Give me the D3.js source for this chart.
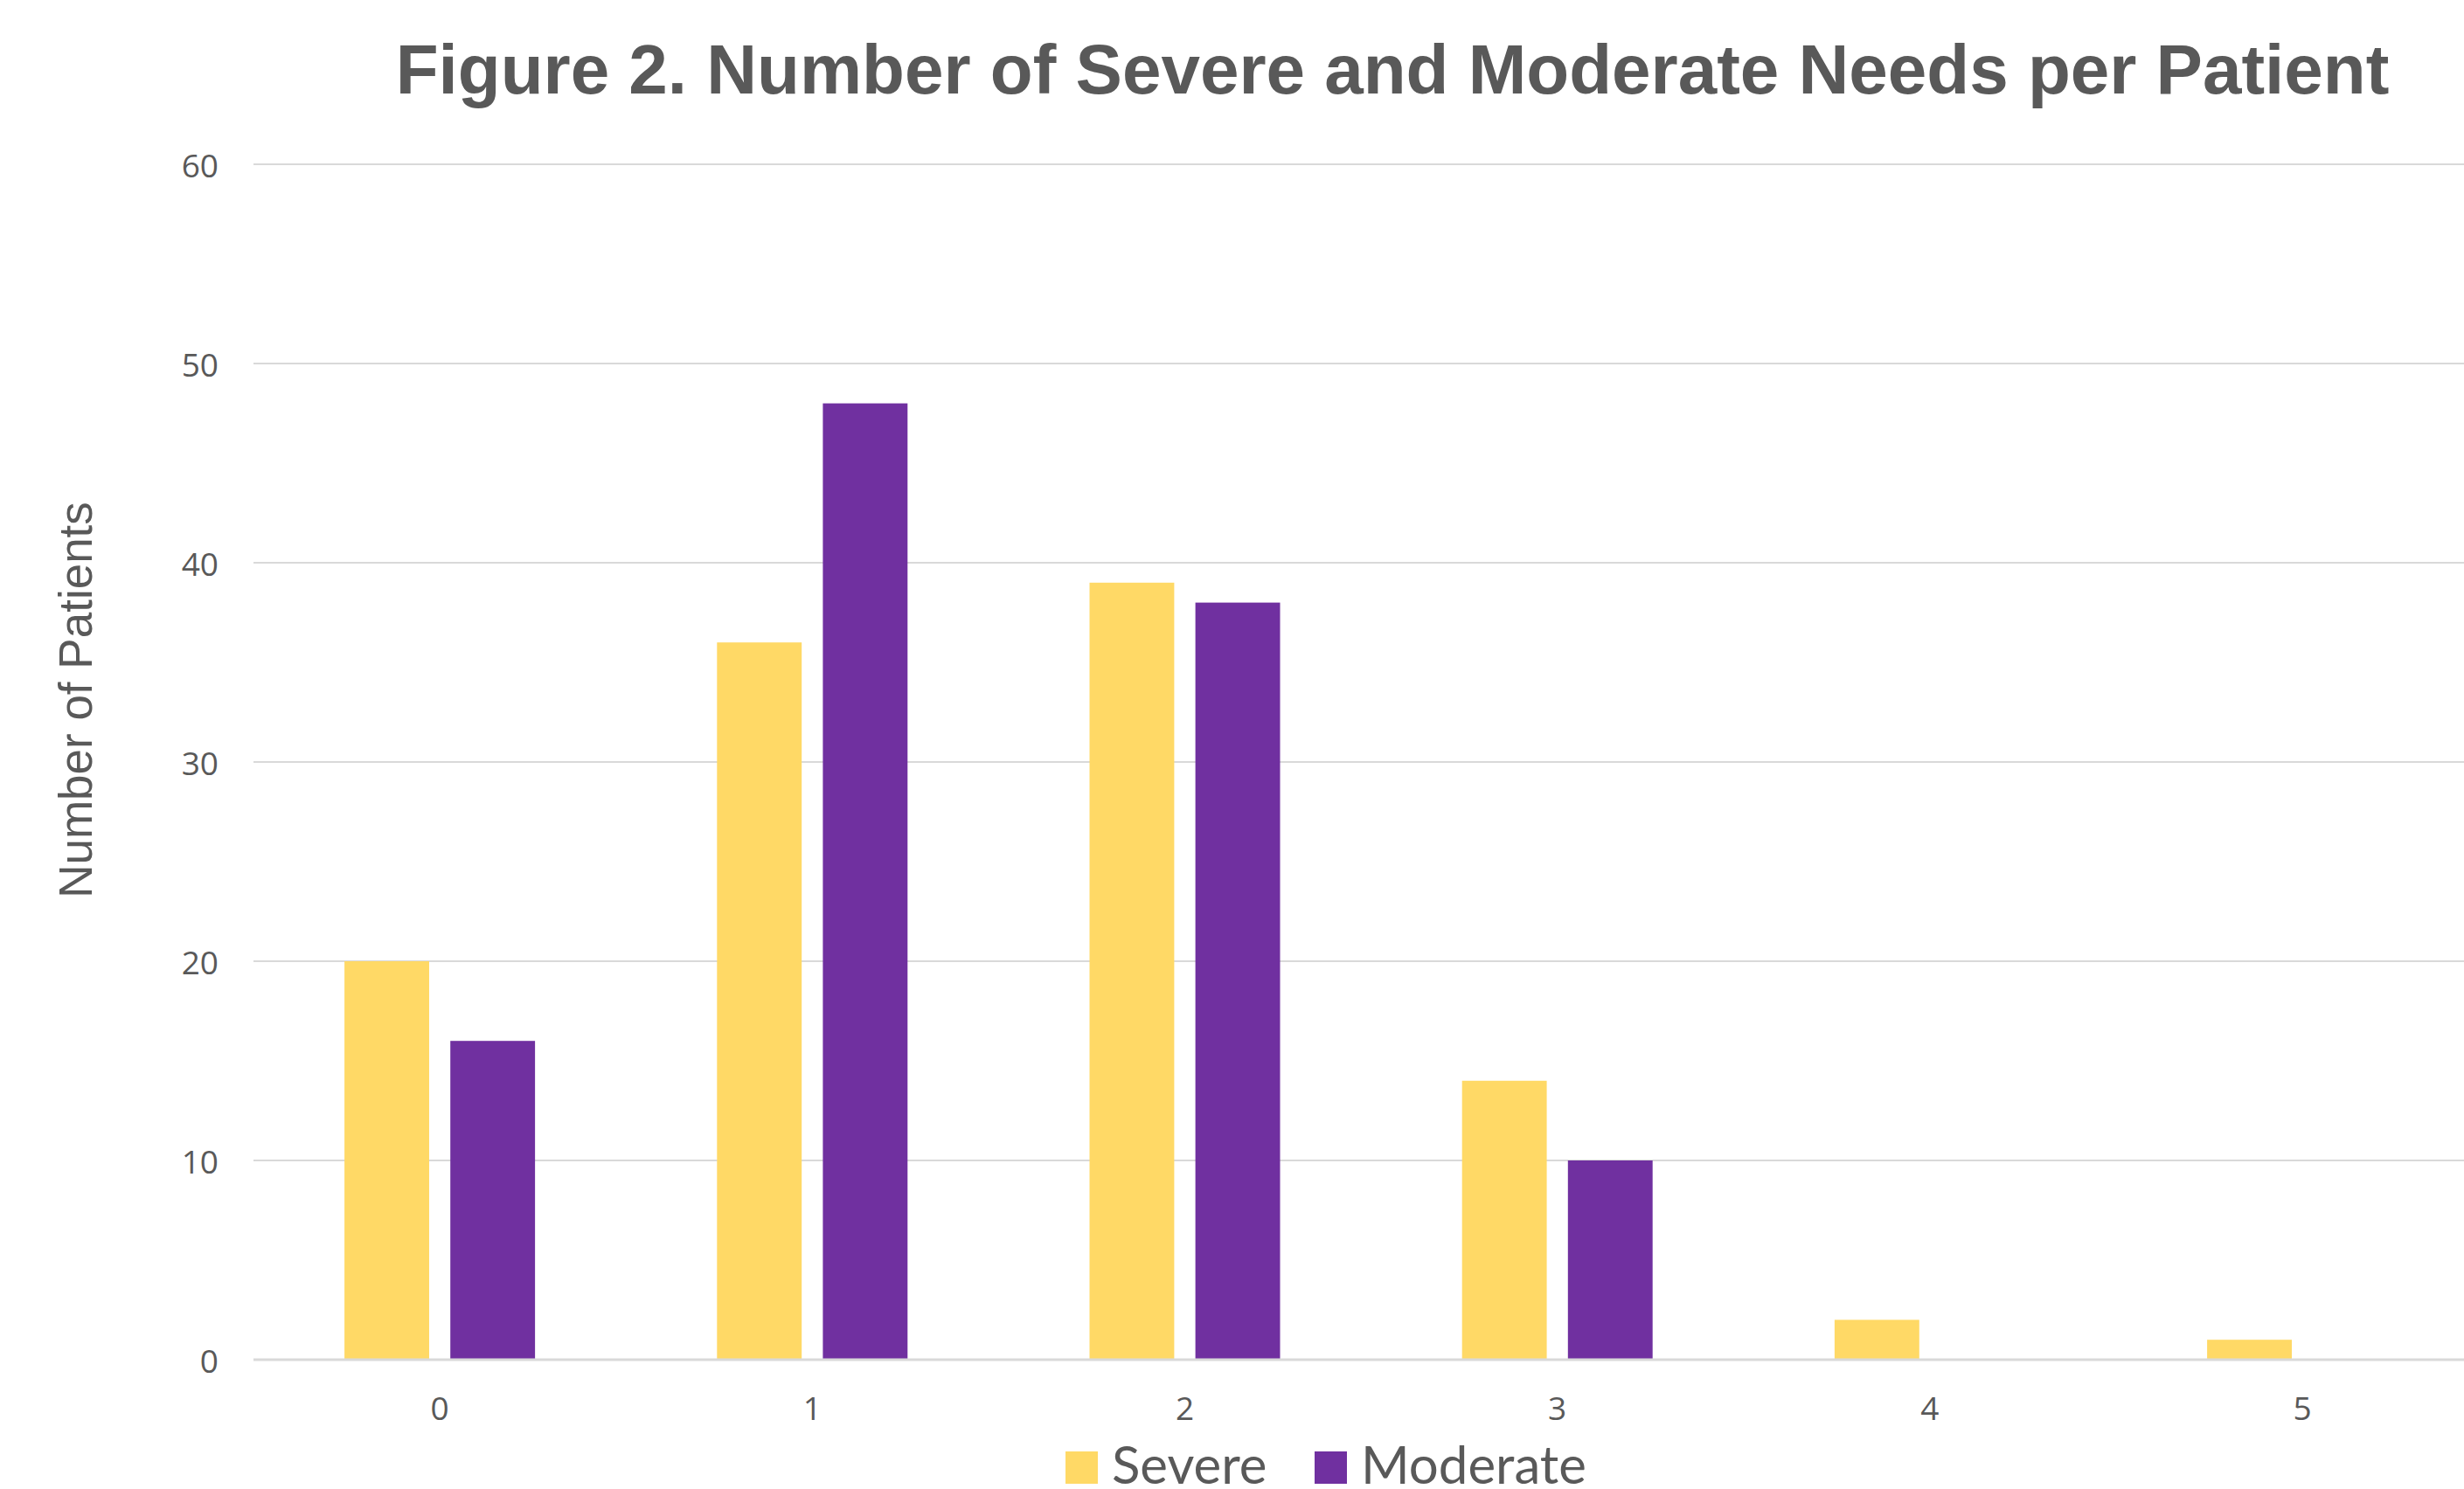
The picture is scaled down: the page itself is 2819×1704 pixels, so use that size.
<!DOCTYPE html>
<html>
<head>
<meta charset="utf-8">
<script src="https://cdn.jsdelivr.net/npm/d3@7"></script>
<style>
  html, body { margin: 0; padding: 0; background: #fff; }
  svg { display: block; }
</style>
</head>
<body>
<div id="chart"></div>
<script>
"use strict";

// data
const categories = ['0', '1', '2', '3', '4', '5'];
const series = ['Severe', 'Moderate'];
const severe = [20, 36, 39, 14, 2, 1];
const moderate = [16, 48, 38, 10, 0, 0];
const y_ticks = [0, 10, 20, 30, 40, 50, 60];
const colors = ['#FFD966', '#7030A0'];

const W = 2819, H = 1704;

const svg = d3.select('#chart').append('svg')
  .attr('width', W)
  .attr('height', H);

// plot area (right side runs past the edge, as in the original)
const plot_left = 290, step = 426.2;
const plot_top = 188, plot_bottom = 1556;

const x0 = d3.scaleBand()
  .domain(categories)
  .range([plot_left, plot_left + step * categories.length]);

const x1 = d3.scaleBand()
  .domain(series)
  .range([0, 218])
  .paddingInner(0.2);

const y = d3.scaleLinear()
  .domain([0, 60])
  .range([plot_bottom, plot_top]);

const grey = '#595959';

// gridlines
svg.append('g')
  .selectAll('line')
  .data(y_ticks.filter(d => d > 0))
  .join('line')
  .attr('x1', plot_left)
  .attr('x2', W)
  .attr('y1', d => y(d))
  .attr('y2', d => y(d))
  .attr('stroke', '#D9D9D9')
  .attr('stroke-width', 2);

// y tick labels
svg.append('g')
  .selectAll('text')
  .data(y_ticks)
  .join('text')
  .text(d => d)
  .attr('x', 250)
  .attr('y', d => y(d))
  .attr('dominant-baseline', 'central')
  .attr('text-anchor', 'end')
  .attr('font-family', '"Open Sans", sans-serif')
  .attr('font-size', 37)
  .attr('fill', grey);

// bars
const rows = categories.map((c, i) => ({ cat: c, vals: [severe[i], moderate[i]] }));
const groupOffset = (x0.bandwidth() - 218) / 2;

const groups = svg.append('g')
  .selectAll('g')
  .data(rows)
  .join('g')
  .attr('transform', d => `translate(${x0(d.cat) + groupOffset},0)`);

groups.selectAll('rect')
  .data(d => d.vals.map((v, j) => ({ key: series[j], v: v, j: j })).filter(d => d.v > 0))
  .join('rect')
  .attr('x', d => x1(d.key))
  .attr('y', d => y(d.v))
  .attr('width', x1.bandwidth())
  .attr('height', d => y(0) - y(d.v))
  .attr('fill', d => colors[d.j]);

// x axis line
svg.append('line')
  .attr('x1', plot_left)
  .attr('x2', W)
  .attr('y1', y(0))
  .attr('y2', y(0))
  .attr('stroke', '#D9D9D9')
  .attr('stroke-width', 3);

// x tick labels
svg.append('g')
  .selectAll('text')
  .data(categories)
  .join('text')
  .text(d => d)
  .attr('x', d => x0(d) + x0.bandwidth() / 2)
  .attr('y', 1625)
  .attr('text-anchor', 'middle')
  .attr('font-family', '"Open Sans", sans-serif')
  .attr('font-size', 37)
  .attr('fill', grey);

// title
svg.append('text')
  .text('Figure 2. Number of Severe and Moderate Needs per Patient')
  .attr('x', 1593)
  .attr('y', 107)
  .attr('text-anchor', 'middle')
  .attr('font-family', '"Liberation Sans", Arial, sans-serif')
  .attr('font-weight', 'bold')
  .attr('font-size', 80)
  .attr('fill', grey);

// y axis title
svg.append('text')
  .text('Number of Patients')
  .attr('transform', 'translate(105,801) rotate(-90)')
  .attr('text-anchor', 'middle')
  .attr('font-family', '"Liberation Sans", Arial, sans-serif')
  .attr('font-size', 53)
  .attr('fill', grey);

// legend (bottom edge clips the text, as in the original)
const legend_x = [1219, 1504];
const legend = svg.append('g')
  .selectAll('g')
  .data(series)
  .join('g')
  .attr('transform', (d, i) => `translate(${legend_x[i]},1661)`);

legend.append('rect')
  .attr('width', 37)
  .attr('height', 37)
  .attr('fill', (d, i) => colors[i]);

legend.append('text')
  .text(d => d)
  .attr('x', 53)
  .attr('y', 37)
  .attr('font-family', 'Lato, sans-serif')
  .attr('font-size', 60)
  .attr('fill', grey);
</script>
</body>
</html>
